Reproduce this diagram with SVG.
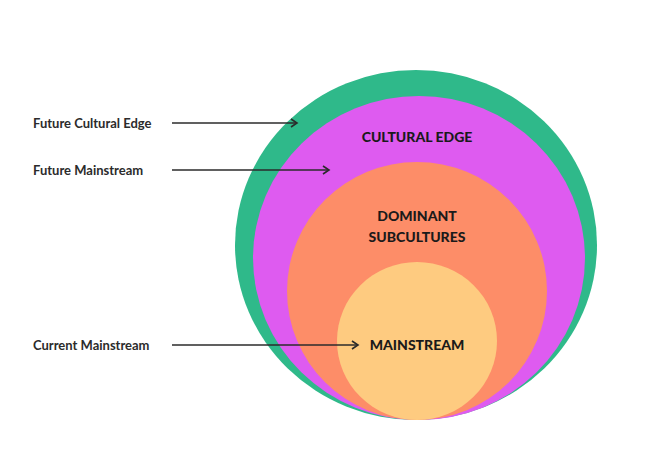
<svg xmlns="http://www.w3.org/2000/svg" width="663" height="451" viewBox="0 0 663 451">
<style>
.lbl{font-family:"Lato","Liberation Sans",sans-serif;font-size:13px;font-weight:bold;fill:#2b2b2b}
.in{font-family:"Lato","Liberation Sans",sans-serif;font-size:14px;font-weight:900;fill:#1a1a1a;text-anchor:middle}
.c{stroke:#2b2b2b;stroke-width:1.6;fill:none;marker-end:url(#a)}
</style>
<defs><marker id="a" markerWidth="10" markerHeight="10" refX="8" refY="5" orient="auto" markerUnits="userSpaceOnUse"><path d="M2,1 L8,5 L2,9" fill="none" stroke="#2b2b2b" stroke-width="1.6"/></marker></defs>
<rect width="663" height="451" fill="#fff"/>
<g id="green"><ellipse cx="416" cy="245" rx="181" ry="175" fill="#2fb98a"/></g>
<g id="magenta"><ellipse cx="419" cy="258" rx="166" ry="162" fill="#de5bf0"/><text class="in" x="417" y="142">CULTURAL EDGE</text></g>
<g id="orange"><ellipse cx="417" cy="291" rx="130" ry="129" fill="#fd8d68"/><text class="in" x="417" y="221">DOMINANT</text><text class="in" x="417" y="242">SUBCULTURES</text></g>
<g id="yellow"><ellipse cx="417" cy="341" rx="80" ry="79" fill="#fecb80"/><text class="in" x="417" y="350">MAINSTREAM</text></g>
<g id="labels">
<text class="lbl" x="33" y="128">Future Cultural Edge</text>
<text class="lbl" x="33" y="175">Future Mainstream</text>
<text class="lbl" x="33" y="350">Current Mainstream</text>
</g>
<g id="connectors">
<line class="c" x1="172" y1="123" x2="297" y2="123"/>
<line class="c" x1="172" y1="170" x2="329" y2="170"/>
<line class="c" x1="172" y1="345" x2="358" y2="345"/>
</g>
</svg>
